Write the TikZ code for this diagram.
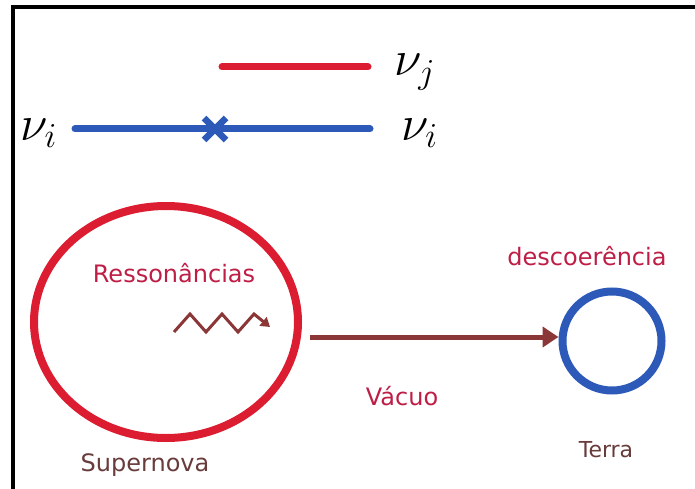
\RequirePackage{fix-cm}
\documentclass[tikz,border=0pt]{standalone}
\usepackage{fontspec}
\newfontfamily\labfont{DejaVu Sans}
\usetikzlibrary{shapes.geometric,arrows.meta,calc}
\definecolor{lred}{RGB}{220,28,48}
\definecolor{lblue}{RGB}{45,90,185}
\definecolor{txtred}{RGB}{190,30,70}
\definecolor{arrbrown}{RGB}{140,55,55}
\definecolor{txtbrown}{RGB}{105,60,60}
\tikzset{
  lab/.style={font=\labfont\fontsize{24}{28}\selectfont, inner sep=0pt},
  nulab/.style={font=\fontsize{50}{58}\selectfont, inner sep=0pt},
  level/.style={line width=7pt, line cap=round},
}
\begin{document}
\begin{tikzpicture}[x=1pt,y=-1pt]
\useasboundingbox (0,0) rectangle (695,489);
\fill[white] (0,0) rectangle (695,489);
% frame
\draw[line width=4pt] (13,489) -- (13,7) -- (695,7);
% levels
\coordinate (rj1) at (222,67);
\coordinate (rj2) at (368,67);
\coordinate (bi1) at (75,129);
\coordinate (bi2) at (370,129);
\draw[level, lred] (rj1) -- (rj2);
\draw[level, lblue] (bi1) -- (bi2);
\node[nulab, anchor=west] (nuj) at (394,72) {$\nu_j$};
\node[nulab, anchor=east] (nuil) at (57,133) {$\nu_i$};
\node[nulab, anchor=west] (nuir) at (401,133) {$\nu_i$};
% cross
\coordinate (x) at (215,129);
\draw[lblue, line width=6.5pt] ($(x)+(-11,-11)$) -- ($(x)+(11,11)$) ($(x)+(-11,11)$) -- ($(x)+(11,-11)$);
% circles
\node[ellipse, draw=lred, line width=8pt, minimum width=264pt, minimum height=232pt, inner sep=0pt] (sn) at (166,322) {};
\node[circle, draw=lblue, line width=8pt, minimum size=99pt, inner sep=0pt] (terra) at (612,341) {};
% arrow
\draw[arrbrown, line width=5pt, -{Triangle[length=16pt,width=20pt]}] ($(sn.east)+(8,15)$) -- (terra.west |- 0,337);
% zigzag
\coordinate (z0) at (174,332);
\coordinate (z6) at (270,327);
\draw[arrbrown, line width=3pt, line join=miter, -{Triangle[length=9pt,width=11pt]}] (z0) -- (190,314) -- (206,332) -- (222,314) -- (238,332) -- (254,314) -- (z6);
% labels
\node[lab, text=txtred] (res) at (174,273) {Ressonâncias};
\node[lab, text=txtred] (desc) at (587,256) {descoerência};
\node[lab, text=txtred] (vac) at (402,396) {Vácuo};
\node[lab, text=txtbrown, font=\labfont\fontsize{22}{26}\selectfont] (ter) at (606,450) {Terra};
\node[lab, text=txtbrown] (sup) at (145,465) {Supernova};
\end{tikzpicture}
\end{document}
